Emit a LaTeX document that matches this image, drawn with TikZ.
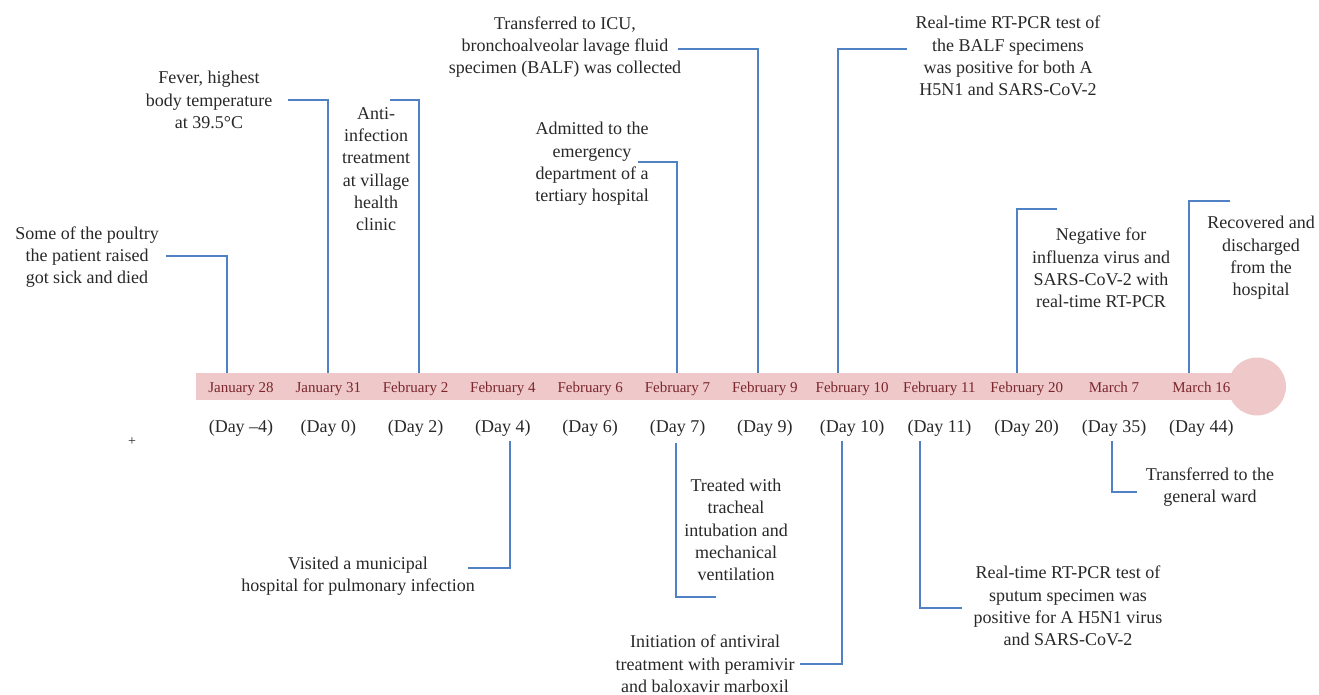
\documentclass[tikz,border=0pt]{standalone}
\usepackage{fontspec}
\setmainfont{Liberation Serif}
\definecolor{barpink}{RGB}{239,201,201}
\definecolor{datered}{RGB}{122,38,44}
\definecolor{linkblue}{RGB}{79,129,196}
\definecolor{txtgray}{RGB}{40,40,40}
\begin{document}
\begin{tikzpicture}[x=1pt,y=-1pt,
  event/.style={align=center, text=txtgray, font=\fontsize{18}{22.3}\selectfont, inner sep=0pt},
  date/.style={anchor=base, text=datered, font=\fontsize{15}{18}\selectfont, inner sep=0pt},
  day/.style={anchor=base, text=txtgray, font=\fontsize{18}{22}\selectfont, inner sep=0pt},
  link/.style={draw=linkblue, line width=1.2pt}]
\useasboundingbox (0,0) rectangle (1319,695);

% timeline bar
\fill[barpink] (196,373) rectangle (1257,400);
\fill[barpink] (1257,386.5) circle (29);

% dates on the bar
\node[date] (d1) at (241,392) {January 28};
\node[date] (d2) at (328.3,392) {January 31};
\node[date] (d3) at (415.6,392) {February 2};
\node[date] (d4) at (502.9,392) {February 4};
\node[date] (d5) at (590.2,392) {February 6};
\node[date] (d6) at (677.5,392) {February 7};
\node[date] (d7) at (764.8,392) {February 9};
\node[date] (d8) at (852.1,392) {February 10};
\node[date] (d9) at (939.4,392) {February 11};
\node[date] (d10) at (1026.7,392) {February 20};
\node[date] (d11) at (1114,392) {March 7};
\node[date] (d12) at (1201.3,392) {March 16};

% days under the bar
\node[day] (y1) at (241,432) {(Day --4)};
\node[day] (y2) at (328.3,432) {(Day 0)};
\node[day] (y3) at (415.6,432) {(Day 2)};
\node[day] (y4) at (502.9,432) {(Day 4)};
\node[day] (y5) at (590.2,432) {(Day 6)};
\node[day] (y6) at (677.5,432) {(Day 7)};
\node[day] (y7) at (764.8,432) {(Day 9)};
\node[day] (y8) at (852.1,432) {(Day 10)};
\node[day] (y9) at (939.4,432) {(Day 11)};
\node[day] (y10) at (1026.7,432) {(Day 20)};
\node[day] (y11) at (1114,432) {(Day 35)};
\node[day] (y12) at (1201.3,432) {(Day 44)};

\node[font=\fontsize{14}{16}\selectfont, text=txtgray] (plus) at (132,442) {+};

% events above
\node[event] (e1) at (87,257) {Some of the poultry\\the patient raised\\got sick and died};
\node[event] (e2) at (209,100) {Fever, highest\\body temperature\\at 39.5°C};
\node[event] (e3) at (376,169) {Anti-\\infection\\treatment\\at village\\health\\clinic};
\node[event] (e4) at (592,164) {Admitted to the\\emergency\\department of a\\tertiary hospital};
\node[event] (e5) at (565,47) {Transferred to ICU,\\bronchoalveolar lavage fluid\\specimen (BALF) was collected};
\node[event] (e6) at (1008,56) {Real-time RT-PCR test of\\the BALF specimens\\was positive for both A\\H5N1 and SARS-CoV-2};
\node[event] (e7) at (1101,268) {Negative for\\influenza virus and\\SARS-CoV-2 with\\real-time RT-PCR};
\node[event] (e8) at (1261,258) {Recovered and\\discharged\\from the\\hospital};

% events below
\node[event] (e9) at (358,576) {Visited a municipal\\hospital for pulmonary infection};
\node[event] (e10) at (736,530) {Treated with\\tracheal\\intubation and\\mechanical\\ventilation};
\node[event] (e11) at (705,664) {Initiation of antiviral\\treatment with peramivir\\and baloxavir marboxil};
\node[event] (e12) at (1068,606) {Real-time RT-PCR test of\\sputum specimen was\\positive for A H5N1 virus\\and SARS-CoV-2};
\node[event] (e13) at (1210,487) {Transferred to the\\general ward};

% ticks on the bar
\coordinate (t1) at (227,373);
\coordinate (t2) at (328,373);
\coordinate (t3) at (419,373);
\coordinate (t4) at (510,441);
\coordinate (t5) at (677,373);
\coordinate (t6) at (676,443);
\coordinate (t7) at (758,373);
\coordinate (t8) at (838,373);
\coordinate (t9) at (842,441);
\coordinate (t10) at (920,441);
\coordinate (t11) at (1017,373);
\coordinate (t12) at (1112,441);
\coordinate (t13) at (1189,373);

% elbow ends near the texts
\coordinate (k1) at (166,256);
\coordinate (k2) at (288,100);
\coordinate (k3) at (390,100);
\coordinate (k4) at (638,162);
\coordinate (k5) at (678,49);
\coordinate (k6) at (907,49);
\coordinate (k7) at (1057,209);
\coordinate (k8) at (1230,201);
\coordinate (k9) at (468,568);
\coordinate (k10) at (716,597);
\coordinate (k11) at (800,664);
\coordinate (k12) at (962,608);
\coordinate (k13) at (1137,492);

\draw[link] (k1) -| (t1);
\draw[link] (k2) -| (t2);
\draw[link] (k3) -| (t3);
\draw[link] (k4) -| (t5);
\draw[link] (k5) -| (t7);
\draw[link] (k6) -| (t8);
\draw[link] (k7) -| (t11);
\draw[link] (k8) -| (t13);
\draw[link] (k9) -| (t4);
\draw[link] (k10) -| (t6);
\draw[link] (k11) -| (t9);
\draw[link] (k12) -| (t10);
\draw[link] (k13) -| (t12);
\end{tikzpicture}
\end{document}
